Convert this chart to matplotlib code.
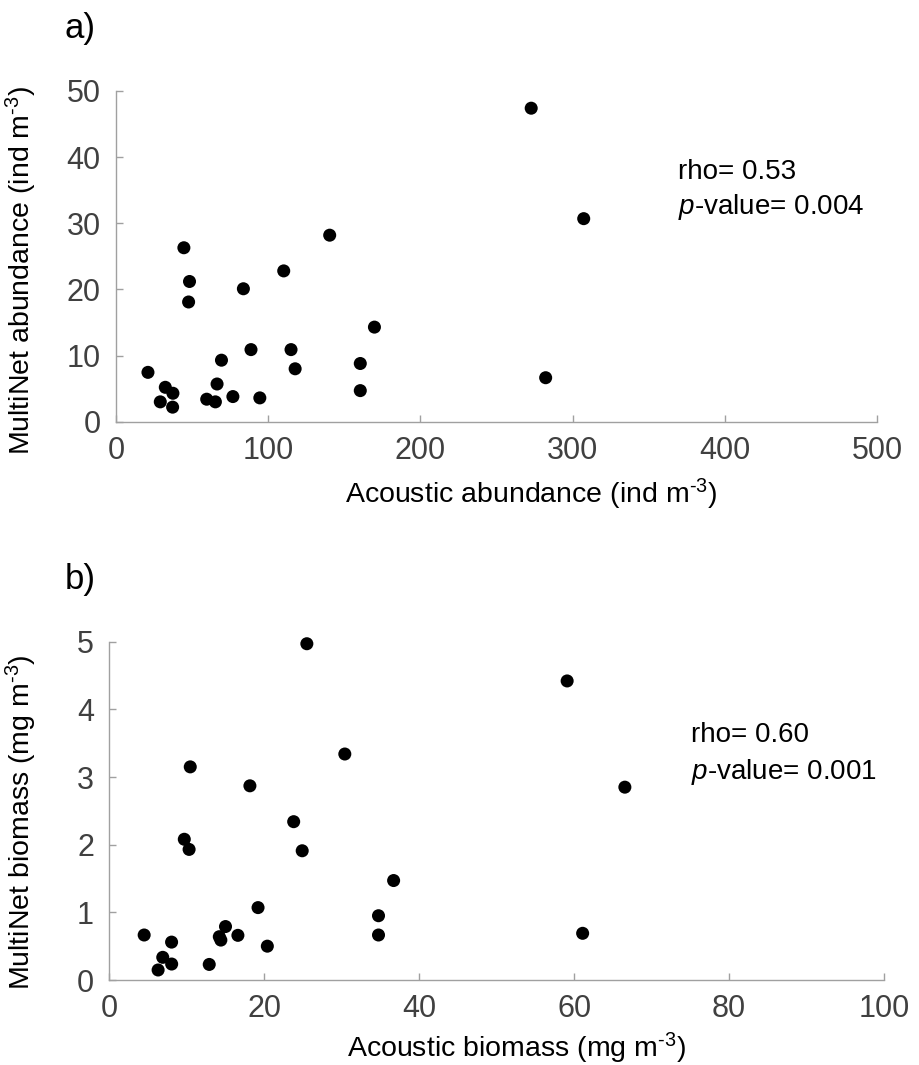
import matplotlib
matplotlib.use("Agg")
import matplotlib.pyplot as plt

plt.rcParams['font.family'] = ['Liberation Sans', 'DejaVu Sans']
plt.rcParams['mathtext.fontset'] = 'custom'
plt.rcParams['mathtext.rm'] = 'Liberation Sans'
plt.rcParams['mathtext.it'] = 'Liberation Sans:italic'
plt.rcParams['mathtext.default'] = 'regular'

# ---- Panel a data: abundance (ind m-3) ----
acoustic_abund = [272.8, 307.3, 140.4, 44.6, 110.2, 48.3, 47.7, 83.7, 169.8, 88.7,
                  115.0, 117.7, 69.3, 160.5, 160.5, 282.3, 21.0, 32.4, 37.4, 29.1,
                  37.2, 66.4, 59.6, 65.3, 76.8, 94.5]
multinet_abund = [47.4, 30.7, 28.2, 26.3, 22.8, 21.2, 18.1, 20.1, 14.3, 10.9,
                  10.9, 8.0, 9.3, 8.8, 4.7, 6.65, 7.46, 5.2, 4.3, 3.0,
                  2.2, 5.7, 3.4, 3.0, 3.8, 3.6]

# ---- Panel b data: biomass (mg m-3) ----
acoustic_bio = [25.5, 30.4, 10.45, 18.15, 23.8, 9.68, 10.3, 24.9, 36.7, 19.2,
                34.75, 34.75, 4.5, 8.04, 6.9, 6.3, 8.05, 12.9, 14.2, 14.4,
                15.0, 16.6, 20.4, 59.1, 66.55, 61.1]
multinet_bio = [4.97, 3.34, 3.15, 2.87, 2.34, 2.08, 1.93, 1.91, 1.47, 1.07,
                0.95, 0.665, 0.665, 0.56, 0.335, 0.148, 0.236, 0.23, 0.64, 0.59,
                0.79, 0.66, 0.50, 4.42, 2.85, 0.69]

xticks_a = [0, 100, 200, 300, 400, 500]
yticks_a = [0, 10, 20, 30, 40, 50]
xticks_b = [0, 20, 40, 60, 80, 100]
yticks_b = [0, 1, 2, 3, 4, 5]

stats_a = ["rho= 0.53", r"$\it{p}$-value= 0.004"]
stats_b = ["rho= 0.60", r"$\it{p}$-value= 0.001"]

W, H = 920, 1065
fig = plt.figure(figsize=(W / 100, H / 100), dpi=100)

spine_col = '#a0a0a0'
tick_col = '#404040'
SUP = r"$^{\text{-}3}$"


def style(ax, xt, yt):
    for s in ['top', 'right']:
        ax.spines[s].set_visible(False)
    for s in ['left', 'bottom']:
        ax.spines[s].set_color(spine_col)
        ax.spines[s].set_linewidth(1.0)
    ax.set_xticks(xt)
    ax.set_yticks(yt)
    ax.set_xlim(xt[0], xt[-1])
    ax.set_ylim(yt[0], yt[-1])
    ax.tick_params(direction='in', length=5, width=1.0, color=spine_col,
                   labelcolor=tick_col, labelsize=22)
    ax.tick_params(axis='x', pad=10)
    ax.tick_params(axis='y', pad=11)


# Panel a
axa = fig.add_axes([116 / W, 1 - 421.7 / H, (877 - 116) / W, (421.7 - 91) / H])
axa.scatter(acoustic_abund, multinet_abund, s=88, color='black', edgecolors='none',
            clip_on=False, zorder=3)
style(axa, xticks_a, yticks_a)
axa.set_xlabel("Acoustic abundance (ind m" + SUP + ")", fontsize=20.5)
axa.set_ylabel("MultiNet abundance (ind m" + SUP + ")", fontsize=20.5)
axa.xaxis.set_label_coords(0.545, -0.167)
axa.yaxis.set_label_coords(-0.101, 0.456)
axa.text(0.7385, 0.755, stats_a[0], transform=axa.transAxes, fontsize=20, va='center')
axa.text(0.7385, 0.65, stats_a[1], transform=axa.transAxes, fontsize=20, va='center')

# Panel b
axb = fig.add_axes([109.3 / W, 1 - 980 / H, 774.7 / W, (980 - 641.7) / H])
axb.scatter(acoustic_bio, multinet_bio, s=88, color='black', edgecolors='none',
            clip_on=False, zorder=3)
style(axb, xticks_b, yticks_b)
axb.set_xlabel("Acoustic biomass (mg m" + SUP + ")", fontsize=20.5)
axb.set_ylabel("MultiNet biomass (mg m" + SUP + ")", fontsize=20.5)
axb.xaxis.set_label_coords(0.526, -0.151)
axb.yaxis.set_label_coords(-0.0907, 0.467)
axb.text(0.751, 0.724, stats_b[0], transform=axb.transAxes, fontsize=20, va='center')
axb.text(0.751, 0.615, stats_b[1], transform=axb.transAxes, fontsize=20, va='center')

fig.text(65 / W, 1 - 38 / H, "a)", fontsize=25, va='baseline', ha='left')
fig.text(65 / W, 1 - 589 / H, "b)", fontsize=25, va='baseline', ha='left')

fig.savefig("out.png", dpi=100)
